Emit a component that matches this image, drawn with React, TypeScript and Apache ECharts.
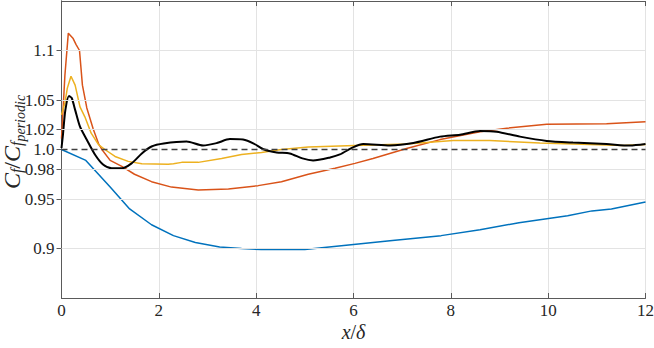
import React, { useEffect, useRef } from "react";
import * as echarts from "echarts";

const X_TICKS = [0, 2, 4, 6, 8, 10, 12];
const Y_TICKS = [0.9, 0.95, 0.98, 1.0, 1.02, 1.05, 1.1];
const Y_GRID = [0.9, 0.95, 0.98, 1.02, 1.05, 1.1];
const REF_LINE = [[0, 1.0], [12, 1.0]];

const blue = [
  [0, 1.0], [0.5, 0.989], [1.0, 0.962], [1.4, 0.94], [1.85, 0.924], [2.3, 0.913],
  [2.75, 0.906], [3.25, 0.9015], [3.7, 0.9], [4.1, 0.899], [5.0, 0.899], [5.5, 0.9015],
  [6.0, 0.904], [6.8, 0.908], [7.8, 0.913], [8.6, 0.919], [9.4, 0.926], [10.4, 0.933],
  [10.9, 0.938], [11.3, 0.94], [12, 0.947],
];

const red = [
  [0, 1.011], [0.07, 1.075], [0.14, 1.1175], [0.24, 1.112], [0.3, 1.106], [0.37, 1.1],
  [0.43, 1.065], [0.52, 1.042], [0.65, 1.021], [0.76, 1.006], [0.83, 1.0], [1.0, 0.989],
  [1.24, 0.983], [1.5, 0.975], [1.85, 0.9675], [2.26, 0.962], [2.81, 0.959], [3.43, 0.96],
  [4.04, 0.9635], [4.52, 0.9675], [5.07, 0.975], [5.62, 0.981], [6.03, 0.986], [6.4, 0.991],
  [7.09, 1.001], [7.78, 1.01], [8.6, 1.018], [9.15, 1.0215], [9.97, 1.0255], [11.2, 1.026],
  [12, 1.028],
];

const yellow = [
  [0, 1.035], [0.07, 1.047], [0.12, 1.062], [0.195, 1.074], [0.28, 1.065], [0.38, 1.043],
  [0.48, 1.033], [0.61, 1.0165], [0.76, 1.005], [0.89, 1.0], [1.1, 0.993], [1.37, 0.988],
  [1.65, 0.9855], [2.19, 0.985], [2.3, 0.9855], [2.47, 0.987], [2.81, 0.987], [3.29, 0.991],
  [3.7, 0.995], [4.11, 0.997], [4.52, 1.0], [5.07, 1.0025], [6.03, 1.004], [7.09, 1.0055],
  [8.05, 1.009], [8.8, 1.009], [9.83, 1.0065], [11.54, 1.004], [12, 1.005],
];

const black = [
  [0, 1.0015], [0.03, 1.015], [0.08, 1.04], [0.154, 1.054], [0.21, 1.052], [0.28, 1.04],
  [0.38, 1.023], [0.52, 1.0098], [0.69, 0.9947], [0.86, 0.9845], [1.03, 0.981], [1.24, 0.981],
  [1.44, 0.986], [1.65, 0.996], [1.85, 1.003], [2.1, 1.006], [2.57, 1.008], [2.91, 1.004],
  [3.19, 1.0065], [3.46, 1.0105], [3.73, 1.01], [3.95, 1.006], [4.15, 1.0002], [4.42, 0.997],
  [4.69, 0.996], [4.95, 0.991], [5.17, 0.989], [5.52, 0.992], [5.72, 0.995], [6.0, 1.0024],
  [6.2, 1.0055], [6.75, 1.004], [7.23, 1.0065], [7.78, 1.013], [8.19, 1.015], [8.6, 1.0187],
  [8.94, 1.018], [9.42, 1.013], [9.97, 1.0087], [10.51, 1.007], [11.2, 1.0055], [11.68, 1.004],
  [12, 1.0055],
];

const FONT = "Liberation Serif";
const AXIS_COLOR = "#5a5a5a";
const GRID_COLOR = "#e3e3e3";
const TEXT_COLOR = "#262626";

export default function App() {
  const ref = useRef<HTMLDivElement>(null);
  useEffect(() => {
    if (!ref.current) return;
    const chart = echarts.init(ref.current, null, { renderer: "svg" });
    const tickFmt = (v: number) => {
      if (Math.abs(v - 1) < 1e-9) return "1.0";
      return String(Number(v.toFixed(2)));
    };
    const hiddenX = {
      type: "value", min: 0, max: 12, interval: 2, position: "top",
      axisLine: { show: true, lineStyle: { color: AXIS_COLOR, width: 1 } },
      axisTick: { show: true, inside: true, length: 5, lineStyle: { color: AXIS_COLOR } },
      axisLabel: { show: false }, splitLine: { show: false },
    };
    const hiddenY = {
      type: "value", min: 0.85, max: 1.15, position: "right",
      axisLine: { show: true, lineStyle: { color: AXIS_COLOR, width: 1 } },
      axisTick: { show: true, inside: true, length: 5, customValues: Y_TICKS, lineStyle: { color: AXIS_COLOR } },
      axisLabel: { show: false, customValues: Y_TICKS }, splitLine: { show: false },
    };
    const base = { fontFamily: FONT, fill: TEXT_COLOR, color: TEXT_COLOR };
    chart.setOption({
      animation: false,
      backgroundColor: "#ffffff",
      textStyle: { fontFamily: FONT },
      grid: { left: 61.5, top: 1, width: 584, height: 297, containLabel: false, outerBoundsMode: "none" },
      graphic: [
        {
          type: "text",
          x: 11,
          y: 142,
          rotation: Math.PI / 2,
          style: {
            text: "{i|C}{s|f}{n|/}{i|C}{s|f}{ss|periodic}",
            align: "center",
            verticalAlign: "middle",
            fontFamily: FONT,
            fill: TEXT_COLOR,
            rich: {
              i: { ...base, fontStyle: "italic", fontSize: 24, verticalAlign: "top", lineHeight: 23 },
              n: { ...base, fontSize: 24, verticalAlign: "top", lineHeight: 23 },
              s: { ...base, fontStyle: "italic", fontSize: 16, verticalAlign: "top", padding: [9, 0, 0, 0], lineHeight: 16 },
              ss: { ...base, fontStyle: "italic", fontSize: 14, verticalAlign: "top", padding: [14, 0, 0, 0], lineHeight: 14 },
            },
          },
        },
      ],
      xAxis: [
        {
          type: "value", min: 0, max: 12, interval: 2, position: "bottom",
          axisLine: { show: true, onZero: false, lineStyle: { color: AXIS_COLOR, width: 1 } },
          axisTick: { show: true, inside: true, length: 5, lineStyle: { color: AXIS_COLOR } },
          axisLabel: { show: true, margin: 4, color: TEXT_COLOR, fontFamily: FONT, fontSize: 17, customValues: X_TICKS },
          splitLine: { show: true, lineStyle: { color: GRID_COLOR, width: 1 } },
          name: "{i|x}{n|/}{i|δ}",
          nameLocation: "middle",
          nameGap: 24,
          nameMoveOverlap: false,
          nameTextStyle: {
            fontFamily: FONT,
            rich: {
              i: { ...base, fontStyle: "italic", fontSize: 20 },
              n: { ...base, fontSize: 20 },
            },
          },
        },
        hiddenX,
      ],
      yAxis: [
        {
          type: "value", min: 0.85, max: 1.15, position: "left",
          axisLine: { show: true, onZero: false, lineStyle: { color: AXIS_COLOR, width: 1 } },
          axisTick: { show: true, inside: true, length: 5, customValues: Y_TICKS, lineStyle: { color: AXIS_COLOR } },
          axisLabel: {
            show: true, margin: 7, color: TEXT_COLOR, fontFamily: FONT, fontSize: 17,
            customValues: Y_TICKS, formatter: tickFmt,
          },
          splitLine: { show: false },
        },
        hiddenY,
      ],
      series: [
        {
          type: "line", data: [], silent: true, z: 1,
          markLine: {
            silent: true, symbol: "none", label: { show: false },
            lineStyle: { color: GRID_COLOR, type: "solid", width: 1 },
            data: Y_GRID.map((v) => ({ yAxis: v })),
          },
        },
        { type: "line", data: blue, showSymbol: false, lineStyle: { color: "#0072BD", width: 1.5 }, z: 3 },
        { type: "line", data: red, showSymbol: false, lineStyle: { color: "#D95319", width: 1.5 }, z: 3 },
        { type: "line", data: yellow, showSymbol: false, lineStyle: { color: "#EDB120", width: 1.5 }, z: 3 },
        { type: "line", data: black, showSymbol: false, smooth: 0.25, lineStyle: { color: "#000000", width: 2 }, z: 4 },
        { type: "line", data: REF_LINE, showSymbol: false, lineStyle: { color: "#404040", width: 1.5, type: [6, 4] }, z: 5 },
      ],
    });
    return () => chart.dispose();
  }, []);
  return <div ref={ref} style={{ width: 654, height: 348, position: "absolute", left: 0, top: 0 }} />;
}
